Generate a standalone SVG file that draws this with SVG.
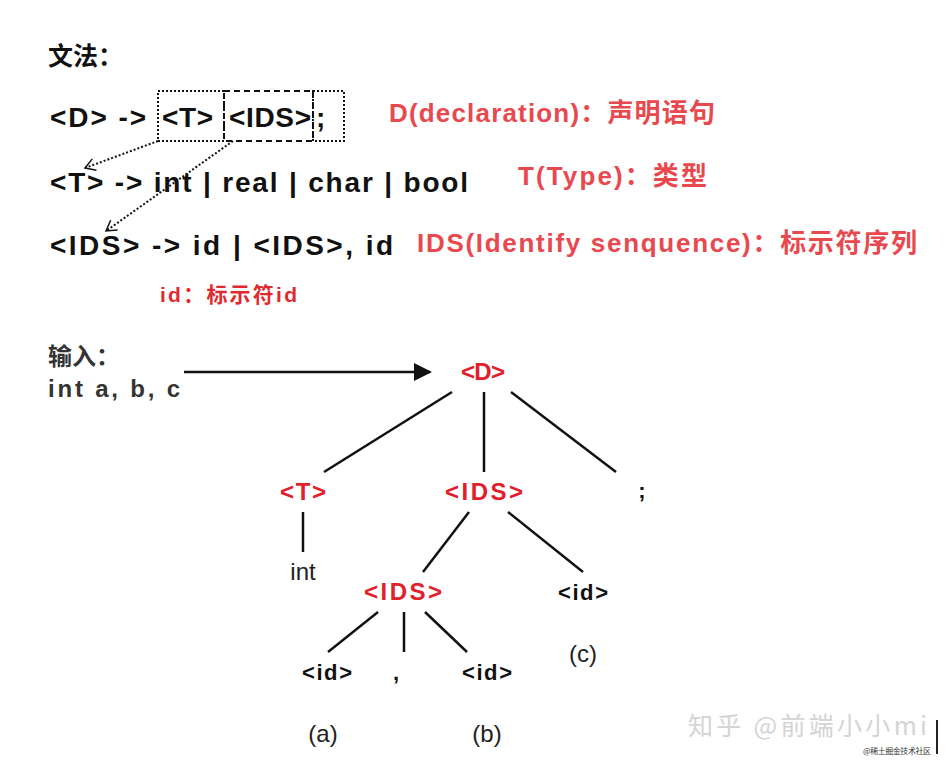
<svg xmlns="http://www.w3.org/2000/svg" width="946" height="766" viewBox="0 0 946 766">
<defs>
<style>
.b{font-family:"Liberation Sans","Noto Sans CJK SC",sans-serif;font-weight:bold;font-size:28px;fill:#111}
.r{font-family:"Liberation Sans","Noto Sans CJK SC",sans-serif;font-weight:bold;font-size:26px;fill:#e8494f}
.rt{font-family:"Liberation Sans","Noto Sans CJK SC",sans-serif;font-weight:bold;font-size:24px;fill:#e0202a;text-anchor:middle}
.bt{font-family:"Liberation Sans","Noto Sans CJK SC",sans-serif;font-weight:bold;font-size:22px;fill:#111;text-anchor:middle}
.n{font-family:"Liberation Sans","Noto Sans CJK SC",sans-serif;font-size:24px;fill:#222;text-anchor:middle}
.in{font-family:"Liberation Sans","Noto Sans CJK SC",sans-serif;font-weight:bold;font-size:24px;fill:#333}
.e{stroke:#111;stroke-width:2.5;fill:none}
.dot{stroke:#111;stroke-width:2;stroke-dasharray:2 2;fill:none}
.dash{stroke:#111;stroke-width:2;stroke-dasharray:6 4;fill:none}
</style>
<marker id="oh" markerWidth="14" markerHeight="14" refX="12" refY="7" orient="auto" markerUnits="userSpaceOnUse">
<path d="M2,1 L12,7 L2,13" fill="none" stroke="#111" stroke-width="1.5"/>
</marker>
</defs>
<rect width="946" height="766" fill="#fff"/>

<g id="grammar">
<text class="b" x="48" y="65" style="font-size:25px">文法：</text>
<text class="b" x="50" y="127" textLength="96">&lt;D&gt; -&gt;</text>
<text class="b" x="162" y="127" textLength="51">&lt;T&gt;</text>
<text class="b" x="229" y="127" textLength="82">&lt;IDS&gt;</text>
<text class="b" x="316" y="127">;</text>
<text class="b" x="50" y="192" textLength="418">&lt;T&gt; -&gt; int | real | char | bool</text>
<text class="b" x="50" y="255" textLength="343">&lt;IDS&gt; -&gt; id | &lt;IDS&gt;, id</text>
</g>

<g id="boxes">
<rect class="dot" x="158" y="91" width="66" height="50"/>
<rect class="dash" x="224" y="91" width="89" height="50"/>
<rect class="dot" x="313" y="91" width="31" height="50"/>
</g>

<g id="notes">
<text class="r" x="389" y="122" textLength="326">D(declaration)：声明语句</text>
<text class="r" x="518" y="185" textLength="189">T(Type)：类型</text>
<text class="r" x="417" y="252" textLength="500">IDS(Identify senquence)：标示符序列</text>
<text class="r" x="160" y="302" textLength="137" style="font-size:21px;fill:#e02a30">id：标示符id</text>
</g>

<g id="input">
<text class="in" x="48" y="365">输入：</text>
<text class="in" x="48" y="397" textLength="132">int a, b, c</text>
</g>

<g id="tree-nodes">
<text class="rt" x="483" y="380" textLength="44">&lt;D&gt;</text>
<text class="rt" x="303" y="500" textLength="46">&lt;T&gt;</text>
<text class="rt" x="484" y="500" textLength="78">&lt;IDS&gt;</text>
<text class="bt" x="642" y="498">;</text>
<text class="n" x="303" y="580">int</text>
<text class="rt" x="403" y="600" textLength="78">&lt;IDS&gt;</text>
<text class="bt" x="583" y="600" textLength="50">&lt;id&gt;</text>
<text class="bt" x="327" y="680" textLength="50">&lt;id&gt;</text>
<text class="bt" x="396" y="680">,</text>
<text class="bt" x="487" y="680" textLength="50">&lt;id&gt;</text>
<text class="n" x="583" y="662">(c)</text>
<text class="n" x="323" y="742">(a)</text>
<text class="n" x="487" y="742">(b)</text>
</g>

<g id="connectors">
<line class="dot" x1="158" y1="141" x2="85" y2="168" marker-end="url(#oh)"/>
<line class="dot" x1="233" y1="141" x2="106" y2="231" marker-end="url(#oh)"/>
<line x1="184" y1="372" x2="430" y2="372" stroke="#111" stroke-width="2.5"/>
<path d="M414,363 L432,372 L414,381 Z" fill="#111"/>
<line class="e" x1="452" y1="392" x2="324" y2="472"/>
<line class="e" x1="484" y1="392" x2="484" y2="472"/>
<line class="e" x1="511" y1="392" x2="616" y2="472"/>
<line class="e" x1="303" y1="512" x2="303" y2="552"/>
<line class="e" x1="469" y1="512" x2="423" y2="572"/>
<line class="e" x1="508" y1="512" x2="583" y2="572"/>
<line class="e" x1="378" y1="612" x2="328" y2="652"/>
<line class="e" x1="404" y1="612" x2="404" y2="652"/>
<line class="e" x1="425" y1="612" x2="467" y2="652"/>
</g>

<g id="watermark">
<text x="688" y="735" textLength="239" style="font-family:'Noto Sans CJK SC','Liberation Sans',sans-serif;font-size:25px;fill:#d4d4d4">知乎 @前端小小mi</text>
<text x="863" y="754" textLength="68" style="font-family:'Noto Sans CJK SC',sans-serif;font-size:8px;fill:#333">@稀土掘金技术社区</text>
<line x1="937" y1="720" x2="937" y2="754" stroke="#222" stroke-width="2"/>
</g>
</svg>
